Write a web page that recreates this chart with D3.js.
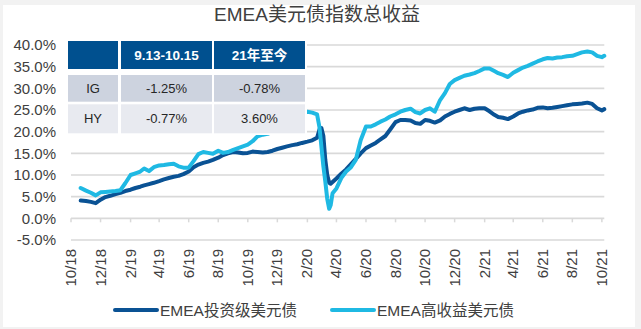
<!DOCTYPE html>
<html>
<head>
<meta charset="utf-8">
<script src="https://cdn.jsdelivr.net/npm/d3@7"></script>
<style>
  html, body { margin: 0; padding: 0; background: #f2f2f2; }
  svg { display: block; font-family: "Liberation Sans", Arial, "Noto Sans CJK SC", sans-serif; }
</style>
</head>
<body>
<svg id="chart"></svg>
<script>
const title = 'EMEA美元债指数总收益'
const seriesNames = ['EMEA投资级美元债', 'EMEA高收益美元债']
const seriesColors = ['#0a5294', '#1fb9e3']

// dates of the samples
const dates = [
  '2018-10-21',
  '2018-11-01','2018-11-11','2018-11-21','2018-12-01','2018-12-11','2018-12-21',
  '2019-01-01','2019-01-11','2019-01-21','2019-02-01','2019-02-11','2019-02-21',
  '2019-03-01','2019-03-11','2019-03-21','2019-04-01','2019-04-11','2019-04-21',
  '2019-05-01','2019-05-11','2019-05-21','2019-06-01','2019-06-11','2019-06-21',
  '2019-07-01','2019-07-11','2019-07-21','2019-08-01','2019-08-11','2019-08-21',
  '2019-09-01','2019-09-11','2019-09-21','2019-10-01','2019-10-11','2019-10-21',
  '2019-11-01','2019-11-11','2019-11-21','2019-12-01','2019-12-11','2019-12-21',
  '2020-01-01','2020-01-11','2020-01-21','2020-02-01','2020-02-11','2020-02-21',
  '2020-02-26','2020-03-01','2020-03-05','2020-03-09','2020-03-13','2020-03-17',
  '2020-03-20','2020-03-24','2020-04-01','2020-04-11','2020-04-21',
  '2020-05-01','2020-05-11','2020-05-21','2020-06-01','2020-06-11','2020-06-21',
  '2020-07-01','2020-07-11','2020-07-21','2020-08-01','2020-08-11','2020-08-21',
  '2020-09-01','2020-09-11','2020-09-21','2020-10-01','2020-10-11','2020-10-21',
  '2020-11-01','2020-11-11','2020-11-21','2020-12-01','2020-12-11','2020-12-21',
  '2021-01-01','2021-01-11','2021-01-21','2021-02-01','2021-02-11','2021-02-21',
  '2021-03-01','2021-03-11','2021-03-21','2021-04-01','2021-04-11','2021-04-21',
  '2021-05-01','2021-05-11','2021-05-21','2021-06-01','2021-06-11','2021-06-21',
  '2021-07-01','2021-07-11','2021-07-21','2021-08-01','2021-08-11','2021-08-21',
  '2021-09-01','2021-09-11','2021-09-21','2021-10-01','2021-10-06'
]

// EMEA IG (%)
const igValues = [
  4.1,
  4.0, 3.8, 3.5, 4.3, 4.9, 5.2,
  5.6, 5.9, 6.3, 6.6, 7.0, 7.3,
  7.6, 7.9, 8.2, 8.6, 9.0, 9.3,
  9.6, 9.8, 10.2, 10.8, 11.8, 12.4,
  12.8, 13.1, 13.5, 14.0, 14.6, 15.0,
  15.3, 15.2, 15.0, 15.1, 15.4, 15.3,
  15.2, 15.3, 15.6, 16.0, 16.3, 16.6,
  16.9, 17.1, 17.4, 17.7, 18.0, 18.6,
  20.5, 20.8, 19.0, 13.5, 10.0, 8.2,
  8.0, 8.4, 9.2, 10.3, 11.3,
  12.5, 13.7, 15.0, 16.2, 16.8, 17.4,
  18.2, 19.0, 20.5, 22.2, 22.7, 22.7,
  22.6, 22.0, 21.8, 22.7, 22.5, 22.1,
  22.6, 23.5, 24.1, 24.6, 25.0, 25.4,
  25.0, 25.3, 25.4, 25.4, 24.7, 23.9,
  23.4, 23.2, 22.9, 23.5, 24.2, 24.6,
  24.9, 25.1, 25.5, 25.6, 25.4, 25.5,
  25.7, 25.9, 26.1, 26.3, 26.4, 26.5,
  26.7, 26.4, 25.4, 24.9, 25.2
]

// EMEA HY (%)
const hyValues = [
  7.0,
  6.4, 5.9, 5.3, 6.0, 6.1, 6.2,
  6.3, 6.5, 8.1, 10.0, 10.4, 10.8,
  11.5, 10.9, 11.8, 12.2, 12.3, 12.5,
  12.6, 12.0, 11.7, 11.7, 13.2, 14.8,
  15.3, 15.1, 14.9, 15.6, 15.1, 15.3,
  15.8, 16.2, 16.6, 17.0, 17.8, 18.9,
  19.3, 19.5, 20.0, 20.5, 21.0, 21.8,
  22.6, 23.3, 24.0, 24.6, 24.4, 24.0,
  21.0, 16.5, 12.0, 8.5, 4.5, 2.2,
  3.0, 5.8, 6.9, 9.3, 10.8,
  11.8, 13.5, 18.0, 21.2, 21.2, 21.7,
  22.3, 22.8, 23.5, 24.0, 24.6, 25.0,
  25.3, 24.5, 24.2, 25.0, 25.4, 24.6,
  27.3, 28.9, 31.0, 31.9, 32.4, 32.9,
  33.2, 33.5, 34.0, 34.6, 34.6, 34.0,
  33.5, 33.1, 32.6, 33.6, 34.2, 34.8,
  35.2, 35.7, 36.2, 36.7, 37.0, 36.9,
  37.1, 37.2, 37.4, 37.5, 37.9, 38.3,
  38.5, 38.3, 37.5, 37.2, 37.5
]

const xTickLabels = ['10/18','12/18','2/19','4/19','6/19','8/19','10/19','12/19','2/20',
  '4/20','6/20','8/20','10/20','12/20','2/21','4/21','6/21','8/21','10/21']
const yTicks = [-5, 0, 5, 10, 15, 20, 25, 30, 35, 40]

const tableHeader = ['', '9.13-10.15', '21年至今']
const tableRows = [
  ['IG', '-1.25%', '-0.78%'],
  ['HY', '-0.77%', '3.60%']
]

const width = 641, height = 329
const svg = d3.select('#chart').attr('width', width).attr('height', height)

// white panel
svg.append('rect').attr('x', 3).attr('y', 5).attr('width', 632).attr('height', 322).attr('fill', '#fff')

const parseDate = d3.timeParse('%Y-%m-%d')
const tickDates = xTickLabels.map(s => {
  const [m, y] = s.split('/').map(Number)
  return new Date(2000 + y, m - 1, 1)
})

const x = d3.scaleTime()
  .domain([new Date(2018, 9, 1), new Date(2021, 9, 6)])
  .range([71, 604.3])
const y = d3.scaleLinear().domain([-5, 40]).range([240, 45])

// grid
svg.append('g').selectAll('line').data(yTicks).enter().append('line')
  .attr('x1', x.range()[0]).attr('x2', x.range()[1])
  .attr('y1', d => y(d)).attr('y2', d => y(d))
  .attr('stroke', '#d9d9d9').attr('stroke-width', 1.6)

// y labels
svg.append('g').selectAll('text').data(yTicks).enter().append('text')
  .attr('x', 56).attr('y', d => y(d)).attr('dy', '0.36em')
  .attr('text-anchor', 'end').attr('font-size', '15px').attr('fill', '#404040')
  .text(d => d.toFixed(1) + '%')

// x axis ticks on 0 line
svg.append('g').selectAll('line').data(tickDates).enter().append('line')
  .attr('x1', d => x(d)).attr('x2', d => x(d))
  .attr('y1', y(0)).attr('y2', y(0) + 4)
  .attr('stroke', '#d9d9d9').attr('stroke-width', 1.5)

svg.append('g').selectAll('text').data(tickDates).enter().append('text')
  .attr('transform', d => `translate(${x(d) + 5},249) rotate(-90)`)
  .attr('text-anchor', 'end').attr('font-size', '15px').attr('fill', '#404040')
  .text((d, i) => xTickLabels[i])

// lines
const pts = dates.map(parseDate)
const line = d3.line().x(d => x(d[0])).y(d => y(d[1])).curve(d3.curveLinear)
;[igValues, hyValues].forEach((vals, k) => {
  svg.append('path')
    .datum(pts.map((p, i) => [p, vals[i]]))
    .attr('d', line)
    .attr('fill', 'none')
    .attr('stroke', seriesColors[k])
    .attr('stroke-width', 4)
    .attr('stroke-linejoin', 'round')
    .attr('stroke-linecap', 'round')
})

// table overlay
const colX = [68, 121, 214], colW = [50, 91, 91]
const rowY = [41, 75, 104.3], rowH = [28, 26.7, 29]
const rowFill = ['#00508f', '#cdd3df', '#e8eaf0']
const tbl = svg.append('g')
tbl.append('rect').attr('x', 66).attr('y', 39).attr('width', 241).attr('height', 96).attr('fill', '#fff')
const allRows = [tableHeader].concat(tableRows)
allRows.forEach((row, r) => {
  row.forEach((cell, c) => {
    tbl.append('rect')
      .attr('x', colX[c]).attr('y', rowY[r])
      .attr('width', colW[c]).attr('height', rowH[r])
      .attr('fill', rowFill[r])
    tbl.append('text')
      .attr('x', colX[c] + colW[c] / 2).attr('y', rowY[r] + rowH[r] / 2).attr('dy', '0.36em')
      .attr('text-anchor', 'middle')
      .attr('font-size', r === 0 ? '13.5px' : '13px')
      .attr('font-weight', r === 0 ? 'bold' : 'normal')
      .attr('fill', r === 0 ? '#fff' : '#262626')
      .text(cell)
  })
})

// title
svg.append('text').attr('x', 317).attr('y', 21)
  .attr('text-anchor', 'middle').attr('font-size', '19px').attr('fill', '#404040')
  .text(title)

// legend
const legendX = [115, 332]
seriesNames.forEach((name, i) => {
  const g = svg.append('g').attr('transform', `translate(${legendX[i]},310)`)
  g.append('line').attr('x1', 0).attr('x2', 42).attr('y1', 0).attr('y2', 0)
    .attr('stroke', seriesColors[i]).attr('stroke-width', 4).attr('stroke-linecap', 'round')
  g.append('text').attr('x', 45).attr('y', 0).attr('dy', '0.36em')
    .attr('font-size', '15.5px').attr('fill', '#404040').text(name)
})
</script>
</body>
</html>
